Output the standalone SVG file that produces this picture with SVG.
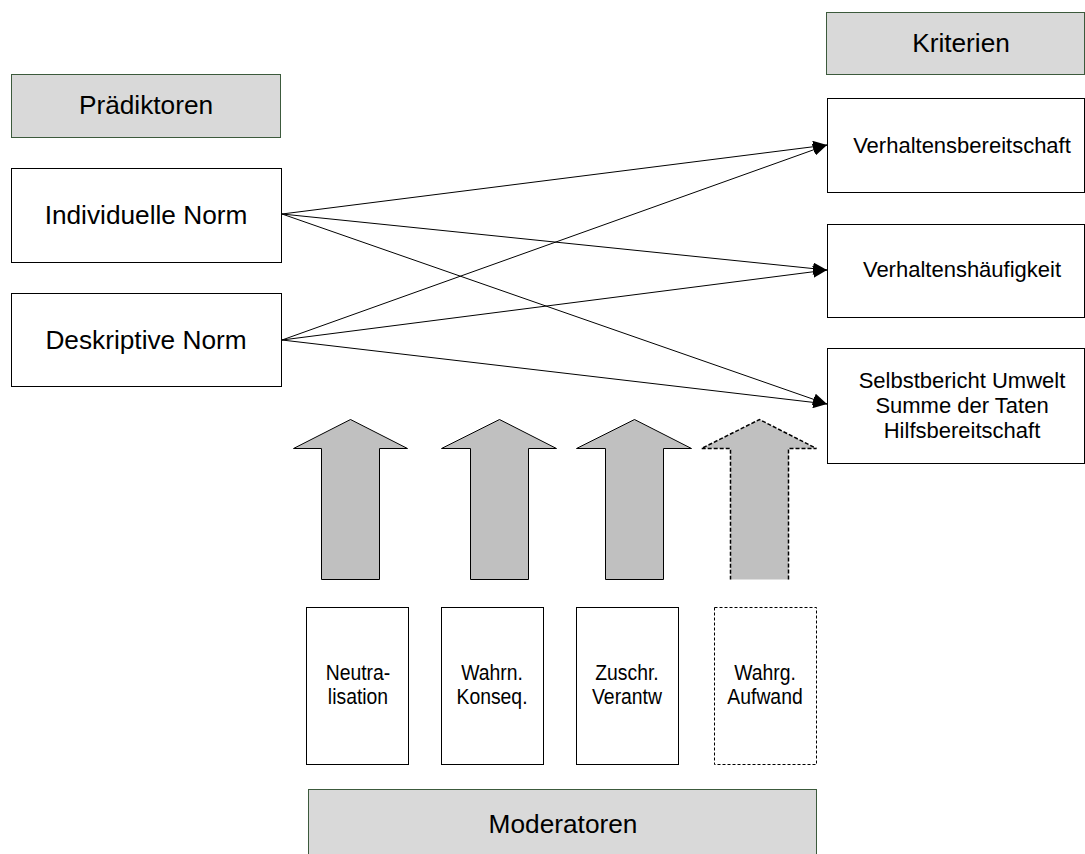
<svg xmlns="http://www.w3.org/2000/svg" width="1085" height="854" viewBox="0 0 1085 854">
  <style>
    text { font-family: "Liberation Sans", Arial, sans-serif; fill: #000; text-anchor: middle; }
    .head { fill: #d9d9d9; stroke: #3c5a3c; stroke-width: 1; }
    .box { fill: #fff; stroke: #000; stroke-width: 1; }
    .dbox { fill: #fff; stroke: #000; stroke-width: 1; stroke-dasharray: 3 2; }
    .big { font-size: 25px; }
    .mid { font-size: 22px; }
    .sm { font-size: 22px; }
    .up { fill: #c0c0c0; stroke: #000; stroke-width: 1; }
    .link { fill: none; stroke: #000; stroke-width: 1; marker-end: url(#tip); }
  </style>
  <defs>
    <marker id="tip" viewBox="0 0 14 12" refX="14" refY="6" markerWidth="14" markerHeight="12" markerUnits="userSpaceOnUse" orient="auto">
      <path d="M0,0 L14,6 L0,12 Z" fill="#000"/>
    </marker>
  </defs>

  <rect width="1085" height="854" fill="#fff"/>

  <!-- column headers -->
  <g id="praediktoren">
    <rect class="head" x="11.5" y="74.5" width="269" height="63"/>
    <text class="big" transform="translate(146,114) scale(1.05,1)">Prädiktoren</text>
  </g>
  <g id="kriterien">
    <rect class="head" x="826.5" y="12.5" width="258" height="62"/>
    <text class="big" transform="translate(961,52) scale(1.05,1)">Kriterien</text>
  </g>
  <g id="moderatoren">
    <rect class="head" x="308.5" y="789.5" width="508" height="80"/>
    <text class="big" transform="translate(563,833) scale(1.05,1)">Moderatoren</text>
  </g>

  <!-- predictors -->
  <g id="individuelle-norm">
    <rect class="box" x="11.5" y="168.5" width="270" height="94"/>
    <text class="big" transform="translate(146,224) scale(1.05,1)">Individuelle Norm</text>
  </g>
  <g id="deskriptive-norm">
    <rect class="box" x="11.5" y="293.5" width="270" height="93"/>
    <text class="big" transform="translate(146,349) scale(1.05,1)">Deskriptive Norm</text>
  </g>

  <!-- criteria -->
  <g id="verhaltensbereitschaft">
    <rect class="box" x="827.5" y="98.5" width="257" height="94"/>
    <text class="mid" x="962" y="153">Verhaltensbereitschaft</text>
  </g>
  <g id="verhaltenshaeufigkeit">
    <rect class="box" x="827.5" y="224.5" width="257" height="93"/>
    <text class="mid" x="962" y="277">Verhaltenshäufigkeit</text>
  </g>
  <g id="selbstbericht">
    <rect class="box" x="827.5" y="348.5" width="257" height="115"/>
    <text class="mid" x="962" y="388">Selbstbericht Umwelt</text>
    <text class="mid" x="962" y="413">Summe der Taten</text>
    <text class="mid" x="962" y="438">Hilfsbereitschaft</text>
  </g>

  <!-- moderator variables -->
  <g id="neutralisation">
    <rect class="box" x="306.5" y="607.5" width="102" height="157"/>
    <text class="sm" transform="translate(358,680) scale(0.88,1)">Neutra-</text>
    <text class="sm" transform="translate(358,704) scale(0.88,1)">lisation</text>
  </g>
  <g id="wahrn-konseq">
    <rect class="box" x="441.5" y="607.5" width="102" height="157"/>
    <text class="sm" transform="translate(492,680) scale(0.88,1)">Wahrn.</text>
    <text class="sm" transform="translate(492,704) scale(0.88,1)">Konseq.</text>
  </g>
  <g id="zuschr-verantw">
    <rect class="box" x="576.5" y="607.5" width="102" height="157"/>
    <text class="sm" transform="translate(627,680) scale(0.88,1)">Zuschr.</text>
    <text class="sm" transform="translate(627,704) scale(0.88,1)">Verantw</text>
  </g>
  <g id="wahrg-aufwand">
    <rect class="dbox" x="714.5" y="607.5" width="102" height="157"/>
    <text class="sm" transform="translate(765,680) scale(0.88,1)">Wahrg.</text>
    <text class="sm" transform="translate(765,704) scale(0.88,1)">Aufwand</text>
  </g>

  <!-- block arrows from moderators upward -->
  <g id="moderator-arrows">
    <polygon class="up" points="350.5,419.5 407.5,448.5 379.5,448.5 379.5,579.5 321.5,579.5 321.5,448.5 293.5,448.5"/>
    <polygon class="up" points="499.5,419.5 556.5,448.5 528.5,448.5 528.5,579.5 470.5,579.5 470.5,448.5 441.5,448.5"/>
    <polygon class="up" points="634.5,419.5 691.5,448.5 663.5,448.5 663.5,579.5 605.5,579.5 605.5,448.5 576.5,448.5"/>
    <polygon points="759.5,419.5 816.5,448.5 788.5,448.5 788.5,579.5 730.5,579.5 730.5,448.5 701.5,448.5" fill="#c0c0c0"/>
    <path d="M788.5,579.5 L788.5,448.5 L816.5,448.5 L759.5,419.5 L701.5,448.5 L730.5,448.5 L730.5,579.5" fill="none" stroke="#000" stroke-width="1.5" stroke-dasharray="4 2"/>
  </g>

  <!-- paths from predictors to criteria -->
  <g id="connectors">
    <line class="link" x1="282" y1="214" x2="827" y2="145"/>
    <line class="link" x1="282" y1="214" x2="827" y2="270"/>
    <line class="link" x1="282" y1="214" x2="827" y2="404"/>
    <line class="link" x1="282" y1="340" x2="827" y2="145"/>
    <line class="link" x1="282" y1="340" x2="827" y2="270"/>
    <line class="link" x1="282" y1="340" x2="827" y2="404"/>
  </g>
</svg>
